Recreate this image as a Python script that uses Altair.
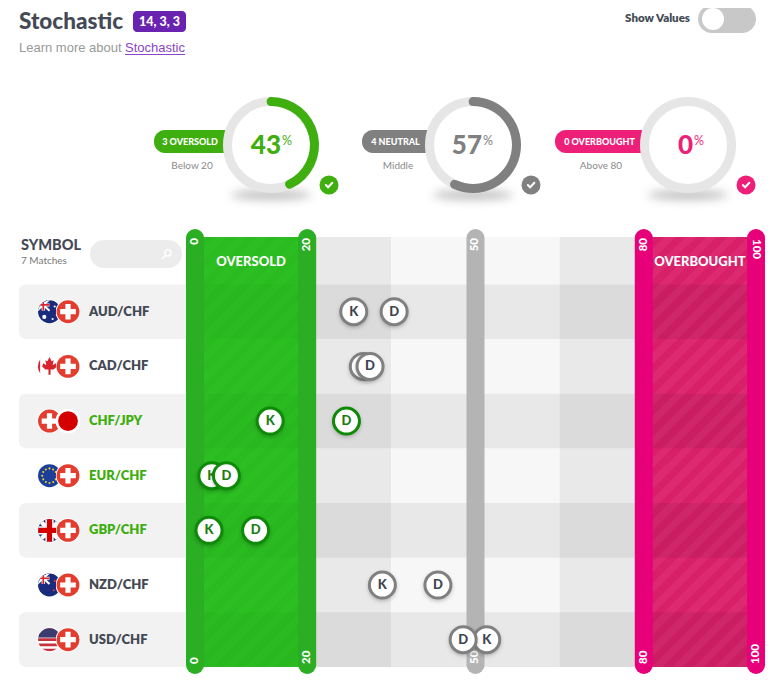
"""Stochastic oversold/overbought scanner."""

from urllib.parse import quote

import altair as alt
import pandas as pd

# chart values
SYMBOLS = ['AUD/CHF', 'CAD/CHF', 'CHF/JPY', 'EUR/CHF', 'GBP/CHF', 'NZD/CHF', 'USD/CHF']
K_VALUES = [28.3, 30.0, 13.4, 3.0, 2.5, 33.4, 52.0]
D_VALUES = [35.5, 31.2, 27.0, 5.6, 10.8, 43.3, 47.8]
STATES = ['neutral', 'neutral', 'oversold', 'oversold', 'oversold', 'neutral', 'neutral']

GAUGE_LABELS = ['3 OVERSOLD', '4 NEUTRAL', '0 OVERBOUGHT']
GAUGE_SUBS = ['Below 20', 'Middle', 'Above 80']
GAUGE_PCT = [43, 57, 0]
LEVELS = [0, 20, 50, 80, 100]
COLUMN_EDGES = [0, 35, 65, 100]

HEAD = 'Lato'
BODY = 'Liberation Sans'
INK = '#444a55'
GREEN = '#3fae0f'
GAUGE_COLORS = [GREEN, '#808080', '#ee1f78']
LEVEL_COLORS = ['#2bad24', '#2bad24', '#b4b4b4', '#e8007a', '#e8007a']
GAUGE_X = [271, 473, 688]

X = alt.Scale(domain=[-33.33, 102.85], nice=False, zero=False)
Y = alt.Scale(domain=SYMBOLS, range=[276.4, 659])
ONE = pd.DataFrame({'a': [0]})


def at(v):
    # page pixel to plot pixel, the page has an 8px margin
    return alt.value(v - 8)


def svg_url(body, size=24):
    s = f'<svg xmlns="http://www.w3.org/2000/svg" width="{size}" height="{size}" viewBox="-12 -12 24 24">{body}</svg>'
    return 'data:image/svg+xml,' + quote(s)


def blur_url(rx, ry, blur, alpha):
    w, h = 2 * rx + 6 * blur, 2 * ry + 6 * blur
    s = (f'<svg xmlns="http://www.w3.org/2000/svg" width="{w}" height="{h}" viewBox="{-w/2} {-h/2} {w} {h}">'
         f'<filter id="b" x="-50%" y="-100%" width="200%" height="300%"><feGaussianBlur stdDeviation="{blur}"/></filter>'
         f'<ellipse rx="{rx}" ry="{ry}" fill="#000" fill-opacity="{alpha}" filter="url(#b)"/></svg>')
    return 'data:image/svg+xml,' + quote(s), w, h


def flag(body):
    clip = '<clipPath id="c"><circle r="11"/></clipPath>'
    return svg_url(f'{clip}<circle r="12" fill="#fff"/><g clip-path="url(#c)">{body}</g>')


UNION = ('<rect x="-12" y="-12" width="12" height="11" fill="#27347a"/>'
         '<path d="M-12,-12L0,-1M0,-12L-12,-1" stroke="#fff" stroke-width="2"/>'
         '<path d="M-6,-12V-1M-12,-6.5H0" stroke="#fff" stroke-width="3"/>'
         '<path d="M-6,-12V-1M-12,-6.5H0" stroke="#d8232f" stroke-width="1.6"/>')
SWISS = flag('<rect x="-12" y="-12" width="24" height="24" fill="#e23d2e"/>'
             '<path d="M-2.5,-7.5h5v5h5v5h-5v5h-5v-5h-5v-5h5z" fill="#fff"/>')
JAPAN = flag('<rect x="-12" y="-12" width="24" height="24" fill="#fff"/><circle r="9.5" fill="#d40000"/>')
AUSTRALIA = flag('<rect x="-12" y="-12" width="24" height="24" fill="#1a2a7c"/>' + UNION +
                 '<circle cx="-5" cy="5" r="2" fill="#fff"/><circle cx="5" cy="-5" r="1" fill="#fff"/>'
                 '<circle cx="7" cy="3" r="1" fill="#fff"/><circle cx="3" cy="7" r="1" fill="#fff"/>')
CANADA = flag('<rect x="-12" y="-12" width="24" height="24" fill="#fff"/>'
              '<rect x="-12" y="-12" width="3" height="24" fill="#d8232f"/>'
              '<path d="M0,-9L2,-5L4,-6L3,-1L6,-3L7,0L4,3L1,3V8H-1V3L-4,3L-7,0L-6,-3L-3,-1L-4,-6L-2,-5Z" fill="#d8232f"/>')
EUROPE = flag('<rect x="-12" y="-12" width="24" height="24" fill="#1d3f9c"/>'
              + ''.join(f'<circle cx="{x}" cy="{y}" r="1" fill="#f4d31c"/>'
                        for x, y in [(0, -7), (3.5, -6), (6, -3.5), (7, 0), (6, 3.5), (3.5, 6), (0, 7),
                                     (-3.5, 6), (-6, 3.5), (-7, 0), (-6, -3.5), (-3.5, -6)]))
BRITAIN = flag('<rect x="-12" y="-12" width="24" height="24" fill="#27347a"/>'
               '<path d="M-12,-12L12,12M12,-12L-12,12" stroke="#fff" stroke-width="4"/>'
               '<path d="M0,-12V12M-12,0H12" stroke="#fff" stroke-width="8"/>'
               '<path d="M0,-12V12M-12,0H12" stroke="#d40000" stroke-width="5"/>')
NEW_ZEALAND = flag('<rect x="-12" y="-12" width="24" height="24" fill="#1a2a7c"/>' + UNION +
                   '<circle cx="5" cy="-4" r="1" fill="#e23d2e"/><circle cx="7" cy="1" r="1" fill="#e23d2e"/>'
                   '<circle cx="4" cy="5" r="1" fill="#e23d2e"/>')
AMERICA = flag('<rect x="-12" y="-12" width="24" height="24" fill="#fff"/>'
               '<path d="M-12,-10H12M-12,-5H12M-12,0H12M-12,5H12M-12,10H12" stroke="#c8313e" stroke-width="2.5"/>'
               '<rect x="-12" y="-12" width="24" height="10" fill="#3c3b6e"/>')
LEFT_FLAGS = [AUSTRALIA, CANADA, SWISS, EUROPE, BRITAIN, NEW_ZEALAND, AMERICA]
RIGHT_FLAGS = [SWISS, SWISS, JAPAN, SWISS, SWISS, SWISS, SWISS]


def stripes(w, h, period, c1, c2):
    # repeating diagonal bands as a hard stop gradient over the rect's box
    n = round((w + h) / period)
    k = (w + h) / (w * w + h * h)
    stops = []
    for i in range(n):
        for off, col in [(i / n, c1), ((i + .5) / n, c1), ((i + .5) / n, c2), ((i + 1) / n, c2)]:
            stops.append({'offset': off, 'color': col})
    return alt.Gradient(gradient='linear', x1=0, y1=0, x2=w * k, y2=h * k, stops=stops)


def text(label, x, y, size, color=INK, font=HEAD, weight=800, align='left', angle=0):
    return alt.Chart(pd.DataFrame({'t': [label]})).mark_text(
        font=font, fontSize=size, fontWeight=weight, color=color, align=align, baseline='middle', angle=angle
    ).encode(text='t:N', x=at(x), y=at(y))


def box(x, x2, y, y2, color, **kw):
    return alt.Chart(ONE).mark_rect(color=color, **kw).encode(x=at(x), x2=at(x2), y=at(y), y2=at(y2))


def tick_icon(x, y, path, size, color='white', width=2.0):
    return alt.Chart(ONE).mark_point(
        shape=path, size=size, stroke=color, strokeWidth=width, opacity=1, filled=False, strokeCap='round'
    ).encode(x=at(x), y=at(y))


rows = pd.DataFrame({'symbol': SYMBOLS, 'k': K_VALUES, 'd': D_VALUES, 'state': STATES})
rows['ink'] = ['#1c7d10' if s == 'oversold' else '#3d4550' for s in STATES]
rows['ring'] = ['#0f8a08' if s == 'oversold' else '#808080' for s in STATES]
rows['name_ink'] = [GREEN if s == 'oversold' else INK for s in STATES]
rows['left_flag'] = LEFT_FLAGS
rows['right_flag'] = RIGHT_FLAGS
dark = rows.iloc[::2]

y_enc = alt.Y('symbol:N', scale=Y, axis=None, title=None)

layers = []

# header
layers += [
    text('Stochastic', 19, 22, 22.5, weight=900),
    box(133, 186, 11, 32, '#6a22b0', cornerRadius=4),
    text('14, 3, 3', 159.5, 21.5, 12.5, 'white', weight=900, align='center'),
    text('Learn more about', 19, 48, 13, '#999999', BODY, 'normal'),
    text('Stochastic', 125, 48, 13, '#8a45c8', BODY, 'normal'),
    box(125, 185, 54, 55, '#8a45c8'),
    text('Show Values', 690, 19, 11.5, align='right', weight=800),
    box(698, 756, 5, 33, '#c8c8c8', cornerRadius=14),
    alt.Chart(ONE).mark_circle(color='white', size=484, opacity=1).encode(x=at(713), y=at(19)),
]

# gauges
CHECK = 'M-0.7,0L-0.2,0.5L0.75,-0.5'
CAP = 1.6  # round end of the ring, in percent of the circle
pill_edges = [(154, 227), (362, 428), (555, 642)]
sub_x = [192, 398, 601]
label_x = [190, 395.5, 599.5]
num_right = [281, 482, 693]
shadow_url, shadow_w, shadow_h = blur_url(40, 5, 5, .25)
for i, cx in enumerate(GAUGE_X):
    col = GAUGE_COLORS[i]
    g = pd.DataFrame({'start': [-CAP], 'tip': [GAUGE_PCT[i] + CAP], 'shown': [str(GAUGE_PCT[i])]})
    theta = alt.Scale(domain=[0, 100], range=[0, 6.28318])
    layers.append(alt.Chart(ONE).mark_image(url=shadow_url, width=shadow_w, height=shadow_h, align='center', baseline='middle')
                  .encode(x=at(cx), y=at(195)))
    layers.append(box(pill_edges[i][0], pill_edges[i][1], 130, 153, col, cornerRadiusTopLeft=11, cornerRadiusBottomLeft=11))
    layers.append(text(GAUGE_LABELS[i], label_x[i], 142, 9, 'white', weight=900, align='center'))
    layers.append(text(GAUGE_SUBS[i], sub_x[i], 166, 10, '#8a8a8a', weight='normal', align='center'))
    layers.append(alt.Chart(ONE).mark_point(shape='circle', size=7569, stroke='#e6e6e6', strokeWidth=9, filled=False, fill='white', opacity=1)
                  .encode(x=at(cx), y=at(145)))
    if GAUGE_PCT[i] > 0:
        layers.append(alt.Chart(g).mark_arc(radius=48, radius2=39, color=col, cornerRadius=4.5).encode(
            theta=alt.Theta('start:Q', scale=theta), theta2='tip:Q', x=at(cx), y=at(145)))
    layers.append(alt.Chart(g).mark_text(font=HEAD, fontSize=26, fontWeight=900, color=col, align='right', baseline='middle')
                  .encode(text='shown:N', x=at(num_right[i]), y=at(146)))
    layers.append(text('%', num_right[i] + 1, 141, 12.5, col, weight='normal'))
    layers.append(alt.Chart(ONE).mark_circle(color=col, size=361, opacity=1).encode(x=at(cx + 58), y=at(185)))
    layers.append(tick_icon(cx + 58, 185, CHECK, 80))

# grid: three columns, zones, then darker rows on top
columns = pd.DataFrame({'start': COLUMN_EDGES[:-1], 'end': COLUMN_EDGES[1:], 'fill': ['#e9e9e9', '#f7f7f7', '#e9e9e9']})
layers.append(alt.Chart(columns).mark_rect().encode(
    x=alt.X('start:Q', scale=X, axis=None, title=None), x2='end:Q', y=at(237), y2=at(667),
    color=alt.Color('fill:N', scale=None)))

zones = [(0, 20, '#2bbf22', '#29bb20'), (80, 100, '#dc2970', '#d81f69')]
for lo, hi, c1, c2 in zones:
    z = pd.DataFrame({'lo': [lo], 'hi': [hi]})
    layers.append(alt.Chart(z).mark_rect(fill=stripes(112, 430, 21, c1, c2)).encode(
        x=alt.X('lo:Q', scale=X, axis=None, title=None), x2='hi:Q', y=at(237), y2=at(667)))

bands = pd.DataFrame({'lo': [0, 20], 'hi': [20, 100], 'shade': [.02, .06]}).merge(dark[['symbol']], how='cross')
layers.append(alt.Chart(bands).mark_rect(color='black').encode(
    x=alt.X('lo:Q', scale=X, axis=None, title=None), x2='hi:Q', y=y_enc,
    opacity=alt.Opacity('shade:Q', scale=None)))

# left label panel
layers.append(alt.Chart(dark).mark_rect(color='#f2f2f2', cornerRadiusTopLeft=7, cornerRadiusBottomLeft=7).encode(
    x=at(19), x2=at(186), y=y_enc))
layers += [
    text('SYMBOL', 21, 245.5, 14.5, weight=900),
    text('7 Matches', 21, 260.5, 10, '#777777', weight='normal'),
    box(90, 182, 240, 268, '#ececec', cornerRadius=14),
    tick_icon(167, 254, 'M-0.4,-0.2a0.6,0.6 0 1,0 1.2,0a0.6,0.6 0 1,0 -1.2,0M-0.25,0.25L-0.9,0.9', 110, width=1.6),
]
layers.append(alt.Chart(rows).mark_image(width=25, height=25, align='center', baseline='middle').encode(
    url='left_flag:N', x=at(49.5), y=y_enc))
layers.append(alt.Chart(rows).mark_image(width=25, height=25, align='center', baseline='middle').encode(
    url='right_flag:N', x=at(68), y=y_enc))
layers.append(alt.Chart(rows).mark_text(font=HEAD, fontSize=13, fontWeight=800, align='left', baseline='middle').encode(
    text='symbol:N', x=at(89), y=y_enc, color=alt.Color('name_ink:N', scale=None)))

# level bars, labels sit against the bar ends and only the top 100 reads downwards
levels = pd.DataFrame({'v': LEVELS, 'fill': LEVEL_COLORS, 't': [str(v) for v in LEVELS]})
layers.append(alt.Chart(levels).mark_rule(strokeWidth=18, strokeCap='round').encode(
    x=alt.X('v:Q', scale=X, axis=None, title=None), y=at(238), y2=at(665),
    color=alt.Color('fill:N', scale=None)))


def level_text(frame, y, angle, align):
    return alt.Chart(frame).mark_text(font=HEAD, fontSize=11.5, fontWeight=900, color='white', angle=angle,
                                      baseline='middle', align=align).encode(
        text='t:N', x=alt.X('v:Q', scale=X, axis=None, title=None), y=at(y))


layers.append(level_text(levels.iloc[:4], 238, 270, 'right'))
layers.append(level_text(levels.iloc[4:], 239, 90, 'left'))
layers.append(level_text(levels, 664, 270, 'left'))

zone_names = pd.DataFrame({'v': [10, 90], 't': ['OVERSOLD', 'OVERBOUGHT']})
layers.append(alt.Chart(zone_names).mark_text(font=HEAD, fontSize=13, fontWeight=900, color='white', baseline='middle').encode(
    text='t:N', x=alt.X('v:Q', scale=X, axis=None, title=None), y=at(262)))

# K then D, so that D lies on top where they overlap
chip_shadow, chip_w, chip_h = blur_url(14, 14, 2, .25)
for field, letter in [('k', 'K'), ('d', 'D')]:
    x_enc = alt.X(f'{field}:Q', scale=X, axis=None, title=None)
    layers.append(alt.Chart(rows).mark_image(url=chip_shadow, width=chip_w, height=chip_h, yOffset=2, align='center', baseline='middle')
                  .encode(x=x_enc, y=y_enc))
    layers.append(alt.Chart(rows).mark_circle(fill='white', size=676, strokeWidth=3, opacity=1).encode(
        x=x_enc, y=y_enc, stroke=alt.Stroke('ring:N', scale=None)))
    layers.append(alt.Chart(rows).mark_text(text=letter, font=HEAD, fontSize=13, fontWeight=900, baseline='middle').encode(
        x=x_enc, y=y_enc, color=alt.Color('ink:N', scale=None)))

chart = alt.layer(*layers).properties(
    width=764, height=666, padding=0, autosize=alt.AutoSizeParams(type='none')
).configure_view(strokeWidth=0)

chart.save("out.html", embed_options={"renderer": "svg", "actions": False})
